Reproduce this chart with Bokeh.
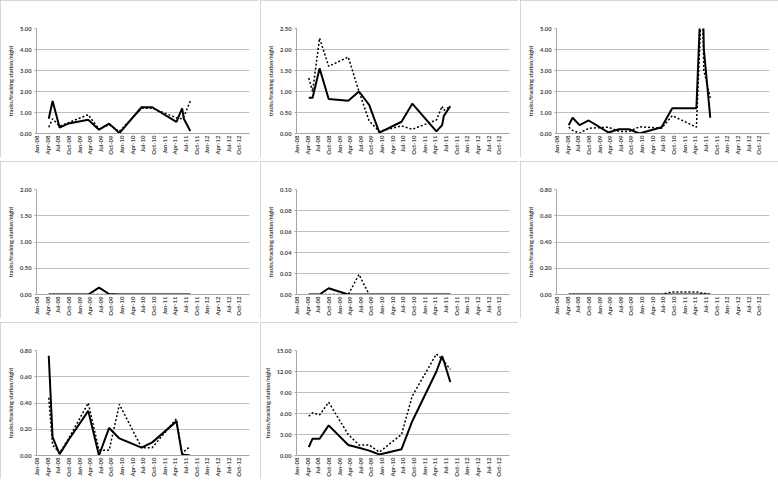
import math
from datetime import datetime
from bokeh.plotting import figure
from bokeh.models import Range1d, FixedTicker, DatetimeTickFormatter, NumeralTickFormatter, Label
from bokeh.layouts import column, row
from bokeh.embed import file_html
from bokeh.resources import INLINE

# x-axis tick labels (quarterly)
tick_labels = ["Jan-08", "Apr-08", "Jul-08", "Oct-08", "Jan-09", "Apr-09", "Jul-09", "Oct-09",
               "Jan-10", "Apr-10", "Jul-10", "Oct-10", "Jan-11", "Apr-11", "Jul-11", "Oct-11",
               "Jan-12", "Apr-12", "Jul-12", "Oct-12"]
x_start = "2008-01-01"
x_end = "2013-01-01"

# survey dates (estimated)
survey_dates = ["2008-04-15", "2008-05-18", "2008-07-17", "2008-10-03", "2009-03-20", "2009-06-20",
                "2009-09-15", "2009-12-12", "2010-06-20", "2010-09-20", "2011-04-15", "2011-06-03",
                "2011-06-18", "2011-08-12"]

birds_solid = [0.70, 1.55, 0.28, 0.48, 0.65, 0.18, 0.47, 0.02, 1.25, 1.25, 0.55, 1.20, 0.70, 0.12]
birds_dotted = [0.30, 0.70, 0.35, 0.52, 0.90, 0.20, 0.42, 0.10, 1.20, 1.20, 0.75, 0.70, 0.80, 1.55]

rabbits_solid = [0.85, 0.85, 1.55, 0.82, 0.78, 1.00, 0.68, 0.02, 0.28, 0.71, 0.05, 0.20, 0.42, 0.65]
rabbits_dotted = [1.32, 1.00, 2.27, 1.60, 1.82, 1.00, 0.30, 0.05, 0.18, 0.10, 0.32, 0.65, 0.55, 0.65]

sml_solid = [0.40, 0.75, 0.40, 0.62, 0.05, 0.20, 0.20, 0.00, 0.30, 1.20, 1.20, 8.00, 4.00, 0.75]
sml_dotted = [0.30, 0.15, 0.02, 0.25, 0.30, 0.10, 0.10, 0.32, 0.25, 0.85, 0.30, 7.00, 3.00, 1.70]

macro_solid = [0.00, 0.00, 0.00, 0.00, 0.00, 0.13, 0.01, 0.00, 0.00, 0.00, 0.00, 0.00, 0.00, 0.00]
macro_dotted = [0.00, 0.00, 0.00, 0.00, 0.00, 0.00, 0.00, 0.00, 0.00, 0.00, 0.00, 0.00, 0.00, 0.00]

echid_solid = [0.000, 0.000, 0.000, 0.006, 0.000, 0.000, 0.000, 0.000, 0.000, 0.000, 0.000, 0.000, 0.000, 0.000]
echid_dotted = [0.000, 0.000, 0.000, 0.000, 0.000, 0.019, 0.000, 0.000, 0.000, 0.000, 0.000, 0.000, 0.000, 0.000]

frogs_solid = [0.00, 0.00, 0.00, 0.00, 0.00, 0.00, 0.00, 0.00, 0.00, 0.00, 0.00, 0.00, 0.00, 0.00]
frogs_dotted = [0.00, 0.00, 0.00, 0.00, 0.00, 0.00, 0.00, 0.00, 0.00, 0.02, 0.02, 0.01, 0.01, 0.00]

rept_solid = [0.76, 0.14, 0.01, 0.12, 0.34, 0.00, 0.21, 0.13, 0.06, 0.10, 0.26, 0.01, 0.005, 0.00]
rept_dotted = [0.44, 0.08, 0.02, 0.13, 0.40, 0.04, 0.04, 0.39, 0.06, 0.06, 0.28, 0.00, 0.03, 0.07]

hop_solid = [1.2, 2.4, 2.4, 4.3, 1.5, 1.1, 0.7, 0.15, 0.9, 4.9, 12.0, 14.2, 13.5, 10.5]
hop_dotted = [5.6, 6.1, 5.8, 7.6, 3.0, 1.5, 1.5, 0.5, 3.0, 8.5, 14.5, 13.8, 13.5, 12.3]

panels = [
    ("Birds - Quinyambie", birds_solid, birds_dotted, 5.0, 1.0),
    ("Rabbits - Quinyambie", rabbits_solid, rabbits_dotted, 2.5, 0.5),
    ("Sml Mammals - Quinyambie", sml_solid, sml_dotted, 5.0, 1.0),
    ("Macropods - Quinyambie", macro_solid, macro_dotted, 2.0, 0.5),
    ("Echidnas - Quinyambie", echid_solid, echid_dotted, 0.10, 0.02),
    ("Frogs - Quinyambie", frogs_solid, frogs_dotted, 0.80, 0.20),
    ("Reptiles - Quinyambie", rept_solid, rept_dotted, 0.80, 0.20),
    ("Hopping-mice - Quinyambie", hop_solid, hop_dotted, 15.0, 3.0),
]
y_label = "tracks/tracking station/night"

EPOCH = datetime(1970, 1, 1)


def ms(dt):
    return (dt - EPOCH).total_seconds() * 1000.0


tick_ms = [ms(datetime.strptime(t, "%b-%y")) for t in tick_labels]
dates = [datetime.strptime(d, "%Y-%m-%d") for d in survey_dates]
X0 = datetime.strptime(x_start, "%Y-%m-%d")
X1 = datetime.strptime(x_end, "%Y-%m-%d")

FONT = "Lato"
W, H = 258, 157
LEFT, TOP = 36, 28
FRAME_H = 105


def make_panel(title, solid, dotted, ymax, ystep):
    p = figure(width=W, height=H, x_axis_type="datetime", output_backend="svg",
               toolbar_location=None, x_range=Range1d(X0, X1), y_range=Range1d(0, ymax),
               min_border_left=LEFT, min_border_right=9, min_border_top=TOP, min_border_bottom=12)
    p.styles = {"outline": "1px solid #c8c8c8", "outline-offset": "-1px"}
    p.outline_line_color = None
    p.background_fill_color = "white"
    p.border_fill_color = "white"

    # title placed in screen units (relative to the plot frame's bottom-left corner)
    p.add_layout(Label(x=W / 2 - LEFT, y=FRAME_H + TOP - 14, x_units="screen", y_units="screen",
                       text=title, text_align="center", text_baseline="middle", text_font=FONT,
                       text_font_size="11.5px", text_font_style="bold", text_color="black"))

    nt = int(round(ymax / ystep))
    p.yaxis.ticker = FixedTicker(ticks=[i * ystep for i in range(nt + 1)])
    p.yaxis.formatter = NumeralTickFormatter(format="0.00")
    p.yaxis.major_label_text_font = FONT
    p.yaxis.major_label_text_font_size = "5.8px"
    p.yaxis.major_label_text_font_style = "bold"
    p.yaxis.major_label_standoff = 3
    p.yaxis.axis_line_color = "#a6a6a6"
    p.yaxis.major_tick_line_color = "#a6a6a6"
    p.yaxis.major_tick_out = 2
    p.yaxis.major_tick_in = 0
    p.yaxis.minor_tick_line_color = None
    p.yaxis.axis_label = y_label
    p.yaxis.axis_label_text_font = FONT
    p.yaxis.axis_label_text_font_size = "5.5px"
    p.yaxis.axis_label_text_font_style = "bold"
    p.yaxis.axis_label_standoff = 3

    p.xaxis.ticker = FixedTicker(ticks=tick_ms)
    fmt = "%b-%y"
    p.xaxis.formatter = DatetimeTickFormatter(milliseconds=fmt, seconds=fmt, minsec=fmt, minutes=fmt,
                                              hourmin=fmt, hours=fmt, days=fmt, months=fmt, years=fmt)
    p.xaxis.major_label_orientation = math.pi / 2
    p.xaxis.major_label_text_font = FONT
    p.xaxis.major_label_text_font_size = "6px"
    p.xaxis.major_label_text_font_style = "bold"
    p.xaxis.major_label_standoff = 2
    p.xaxis.axis_line_color = "#a6a6a6"
    p.xaxis.major_tick_out = 0
    p.xaxis.major_tick_in = 0
    p.xaxis.minor_tick_line_color = None

    p.xgrid.grid_line_color = None
    p.ygrid.grid_line_color = "#bfbfbf"
    p.ygrid.grid_line_width = 1

    p.line(dates, dotted, line_color="black", line_width=1.5, line_dash="2 2")
    p.line(dates, solid, line_color="black", line_width=2)
    return p


figs = [make_panel(*args) for args in panels]
layout = column(
    row(figs[0], figs[1], figs[2], spacing=2),
    row(figs[3], figs[4], figs[5], spacing=2),
    row(figs[6], figs[7], spacing=2),
    spacing=4,
)

open("out.html", "w").write(file_html(layout, INLINE))
